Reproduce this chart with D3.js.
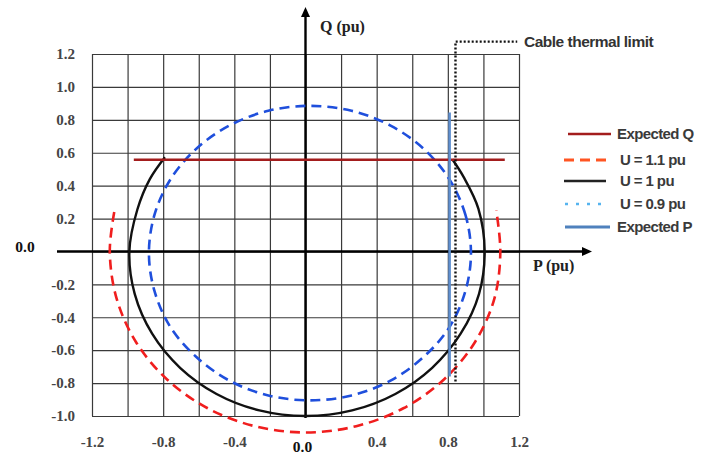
<!DOCTYPE html>
<html><head><meta charset="utf-8">
<script src="https://cdn.jsdelivr.net/npm/d3@7"></script>
<style>body{margin:0;background:#fff}svg{display:block}</style>
</head><body><svg id="c" width="703" height="455"></svg>
<script>
// ---------- data ----------
const pGrid = [-1.2,-1.0,-0.8,-0.6,-0.4,-0.2,0,0.2,0.4,0.6,0.8,1.0,1.2];
const qGrid = [-1.0,-0.8,-0.6,-0.4,-0.2,0,0.2,0.4,0.6,0.8,1.0,1.2];
const pLabels = [-1.2,-0.8,-0.4,0.4,0.8,1.2];
const qLabels = [1.2,1.0,0.8,0.6,0.4,0.2,-0.2,-0.4,-0.6,-0.8,-1.0];

// U = 1.1 pu (open arc)
const u11 = [[-1.075,0.24],[-1.1,0],[-1.062,-0.285],[-0.953,-0.55],[-0.778,-0.778],[-0.55,-0.953],
  [-0.285,-1.062],[0,-1.1],[0.285,-1.062],[0.55,-0.953],[0.778,-0.778],[0.953,-0.55],[1.062,-0.285],[1.095,0],[1.072,0.25]];
// U = 1 pu (open arc)
const u10 = [[-0.79,0.573],[-0.875,0.44],[-0.945,0.255],[-0.99,0],[-0.96,-0.258],[-0.862,-0.5],[-0.705,-0.707],
  [-0.5,-0.866],[-0.259,-0.966],[0,-1.0],[0.262,-0.966],[0.505,-0.866],[0.712,-0.707],[0.872,-0.5],[0.975,-0.259],
  [1.007,0],[0.972,0.259],[0.89,0.45],[0.825,0.56]];
// U = 0.9 pu (closed)
const u09 = [[0.93,-0.01],[0.899,0.222],[0.809,0.438],[0.665,0.623],[0.478,0.765],[0.259,0.855],[0.025,0.885],
  [-0.209,0.855],[-0.428,0.765],[-0.615,0.623],[-0.759,0.438],[-0.849,0.222],[-0.88,-0.01],[-0.849,-0.24],
  [-0.759,-0.46],[-0.615,-0.64],[-0.428,-0.785],[-0.209,-0.875],[0.025,-0.905],[0.259,-0.875],[0.478,-0.785],
  [0.665,-0.64],[0.809,-0.46],[0.899,-0.24]];
const expectedQ = [[-0.965,0.557],[1.12,0.557]];
const expectedP = [[0.81,0.845],[0.81,-0.76]];
const cableLimit = [[0.843,-0.79],[0.843,1.275],[1.19,1.275]];
const legendLabels = ["Expected Q","U = 1.1 pu","U = 1 pu","U = 0.9 pu","Expected P"];

// ---------- drawing ----------
const svg = d3.select("#c");
const x = d3.scaleLinear().domain([-1.2,1.2]).range([92,519]);
const y = d3.scaleLinear().domain([-1.0,1.2]).range([416,54]);
const X0 = x(0), Y0 = y(0);

// grid
svg.append("g").attr("transform",`translate(0,${y(-1.0)})`)
  .call(d3.axisBottom(x).tickValues(pGrid).tickSize(-(y(-1.0)-y(1.2))).tickFormat(""))
  .call(g=>g.select(".domain").remove())
  .call(g=>g.selectAll("line").attr("stroke","#3a3a3a").attr("stroke-width",1.2));
svg.append("g").attr("transform",`translate(${x(-1.2)},0)`)
  .call(d3.axisLeft(y).tickValues(qGrid).tickSize(-(x(1.2)-x(-1.2))).tickFormat(""))
  .call(g=>g.select(".domain").remove())
  .call(g=>g.selectAll("line").attr("stroke","#3a3a3a").attr("stroke-width",1.2));

// tick labels
const fmt = d => d.toFixed(1);
svg.append("g").attr("transform",`translate(${x(-1.2)},0)`)
  .call(d3.axisLeft(y).tickValues(qLabels).tickSize(0).tickPadding(17).tickFormat(fmt))
  .call(g=>g.select(".domain").remove())
  .call(g=>g.selectAll("text").attr("font-family","Liberation Serif, Times New Roman, serif")
     .attr("font-size",15).attr("font-weight","bold").attr("fill","#454545"));
svg.append("g").attr("transform",`translate(0,${y(-1.0)})`)
  .call(d3.axisBottom(x).tickValues(pLabels).tickSize(0).tickPadding(20).tickFormat(fmt))
  .call(g=>g.select(".domain").remove())
  .call(g=>g.selectAll("text").attr("font-family","Liberation Serif, Times New Roman, serif")
     .attr("font-size",15).attr("font-weight","bold").attr("fill","#454545"));

const serif = "Liberation Serif, Times New Roman, serif";
svg.append("text").attr("x",25).attr("y",Y0-5).attr("dy","0.35em").attr("text-anchor","middle")
  .attr("font-family",serif).attr("font-size",15.5).attr("font-weight","bold").attr("fill","#111").text("0.0");
svg.append("text").attr("x",X0-3).attr("y",447).attr("dy","0.35em").attr("text-anchor","middle")
  .attr("font-family",serif).attr("font-size",15.5).attr("font-weight","bold").attr("fill","#111").text("0.0");

// axes with arrows
svg.append("line").attr("x1",57).attr("x2",584).attr("y1",Y0).attr("y2",Y0).attr("stroke","#000").attr("stroke-width",2.4);
svg.append("path").attr("d",`M${592},${Y0} L${582},${Y0-4.5} L${582},${Y0+4.5}Z`).attr("fill","#000");
svg.append("line").attr("x1",X0).attr("x2",X0).attr("y1",418).attr("y2",15).attr("stroke","#000").attr("stroke-width",2.4);
svg.append("path").attr("d",`M${X0},${7} L${X0-4.5},${17} L${X0+4.5},${17}Z`).attr("fill","#000");

svg.append("text").attr("x",320).attr("y",32).attr("font-family",serif).attr("font-size",16)
  .attr("font-weight","bold").attr("fill","#222").text("Q (pu)");
svg.append("text").attr("x",533).attr("y",271).attr("font-family",serif).attr("font-size",16)
  .attr("font-weight","bold").attr("fill","#222").text("P (pu)");

// curves
const line = d3.line().x(d=>x(d[0])).y(d=>y(d[1])).curve(d3.curveCatmullRom);
const closed = d3.line().x(d=>x(d[0])).y(d=>y(d[1])).curve(d3.curveCatmullRomClosed);
const straight = d3.line().x(d=>x(d[0])).y(d=>y(d[1]));

svg.append("path").datum(u09).attr("d",closed).attr("fill","none").attr("stroke","#1f4fdc")
  .attr("stroke-width",2.6).attr("stroke-dasharray","10,6");
svg.append("path").datum(u11).attr("d",line).attr("fill","none").attr("stroke","#f01e1e")
  .attr("stroke-width",2.6).attr("stroke-dasharray","10,6");
svg.append("path").datum(u10).attr("d",line).attr("fill","none").attr("stroke","#111")
  .attr("stroke-width",2.4);
svg.append("path").datum(expectedQ).attr("d",straight).attr("fill","none").attr("stroke","#a31d1d")
  .attr("stroke-width",2.6);
svg.append("path").datum(expectedP).attr("d",straight).attr("fill","none").attr("stroke","#5f8fcf")
  .attr("stroke-width",2.6);
svg.append("path").datum(cableLimit).attr("d",straight).attr("fill","none").attr("stroke","#111")
  .attr("stroke-width",2.4).attr("stroke-dasharray","2,2");

const sans = "Liberation Sans, Arial, sans-serif";
svg.append("text").attr("x",524).attr("y",42).attr("dy","0.35em").attr("font-family",sans)
  .attr("font-size",15.5).attr("font-weight","bold").attr("fill","#333").attr("letter-spacing",-0.5)
  .text("Cable thermal limit");

// legend
const legY = [134,160,181,204,227];
const legX1 = [568,564,564,565,565], legX2 = [611,606,606,605,610];
const legTextX = [617,620,620,620,617];
const legStyle = [
  {c:"#a31d1d",w:2.6,d:null},
  {c:"#ff5522",w:2.8,d:"10,6"},
  {c:"#222",w:2.4,d:null},
  {c:"#56b4ef",w:2.6,d:"3,8"},
  {c:"#4f81bd",w:3,d:null}];
const leg = svg.append("g");
legendLabels.forEach((t,i)=>{
  leg.append("line").attr("x1",legX1[i]).attr("x2",legX2[i]).attr("y1",legY[i]).attr("y2",legY[i])
    .attr("stroke",legStyle[i].c).attr("stroke-width",legStyle[i].w).attr("stroke-dasharray",legStyle[i].d);
  leg.append("text").attr("x",legTextX[i]).attr("y",legY[i]).attr("dy","0.35em").attr("font-family",sans)
    .attr("font-size",15).attr("font-weight","bold").attr("fill","#3a3a3a").attr("letter-spacing",-0.6).text(t);
});
</script></body></html>
